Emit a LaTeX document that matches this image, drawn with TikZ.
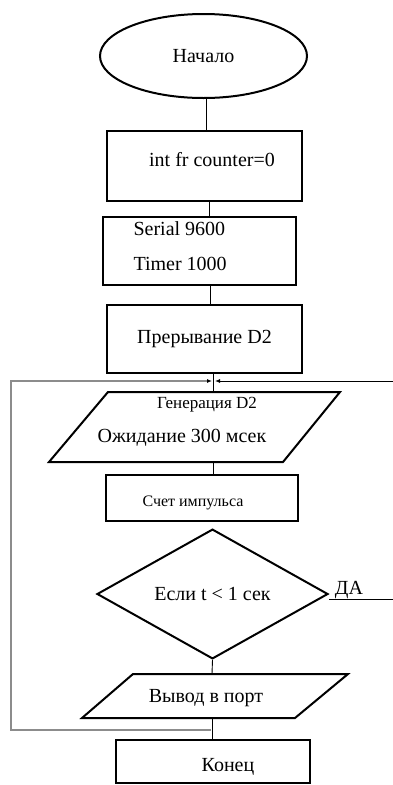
\documentclass[tikz,border=0pt]{standalone}
\usepackage{fontspec}
\setmainfont{Liberation Serif}
\usetikzlibrary{shapes.geometric,arrows.meta}

\begin{document}
\begin{tikzpicture}[x=1pt,y=-1pt,
  every node/.style={font=\fontsize{20}{24}\selectfont},
  blk/.style={draw,line width=2pt,inner sep=0pt},
  link/.style={line width=0.9pt},
  backlink/.style={line width=1.5pt,draw=black!45},
  tip/.style={-{Latex[length=5pt,width=4pt]}}]
\useasboundingbox (0,0) rectangle (393,785);
% blocks
\node[blk,ellipse,minimum width=207pt,minimum height=84pt] (start) at (203.5,56) {Начало};
\node[blk,rectangle,minimum width=195pt,minimum height=70pt] (init) at (204.5,166) {};
\node (init-t) at (212,160) {int fr counter=0};
\node[blk,rectangle,minimum width=193pt,minimum height=68pt] (setup) at (199.5,251) {};
\node[anchor=west] (setup-a) at (130,229) {Serial 9600};
\node[anchor=west] (setup-b) at (130,264) {Timer 1000};
\node[blk,rectangle,minimum width=195pt,minimum height=68pt] (intr) at (204.5,339) {Прерывание D2};
% parallelogram: generation
\draw[blk] (108,392) -- (340,392) -- (283,462) -- (49,462) -- cycle;
\coordinate (gen-n) at (213,392);
\coordinate (gen-s) at (213,462);
\node[font=\fontsize{17}{20}\selectfont] (gen-a) at (207,405) {Генерация D2};
\node (gen-b) at (182,438) {Ожидание 300 мсек};
\node[blk,rectangle,minimum width=192pt,minimum height=46pt] (count) at (202,498) {};
\node[font=\fontsize{16}{19}\selectfont] (count-t) at (193,503) {Счет импульса};
\node[blk,diamond,minimum width=231pt,minimum height=128pt] (check) at (212.5,594) {Если t < 1 сек};
\node (yes) at (349,590) {ДА};
% parallelogram: output
\draw[blk] (133,674) -- (348,674) -- (295,718) -- (82,718) -- cycle;
\coordinate (out-n) at (212,674);
\coordinate (out-s) at (212,718);
\node (output-t) at (206,698) {Вывод в порт};
\node[blk,rectangle,minimum width=194pt,minimum height=43pt] (stop) at (213,761.5) {};
\node (stop-t) at (228,767) {Конец};
% junctions
\coordinate (merge) at (213,381);
\coordinate (redge) at (393,381);
\coordinate (yesend) at (393,599);
\coordinate (back) at (211,730);
% links
\draw[link] ([xshift=3pt]start.south) -- ([xshift=3pt]start.south |- init.north);
\draw[link] ([xshift=5pt]init.south) -- ([xshift=5pt]init.south |- setup.north);
\draw[link] ([xshift=11pt]setup.south) -- ([xshift=11pt]setup.south |- intr.north);
\draw[link] (intr.south -| merge) -- (gen-n);
\draw[link] (gen-s) -- (count.north -| gen-s);
\draw[link] (check.south) -- (out-n);
\draw[link] (out-s) -- (stop.north -| out-s);
\draw[link] ([yshift=-5pt]check.east) -- (yesend);
\draw[link,tip] (redge) -- ([xshift=2pt]merge);
\draw[backlink,-{Latex[length=5pt,width=4pt,black]}] (back) -- ++(-200,0) |- ([xshift=-1pt]merge);
\end{tikzpicture}
\end{document}
